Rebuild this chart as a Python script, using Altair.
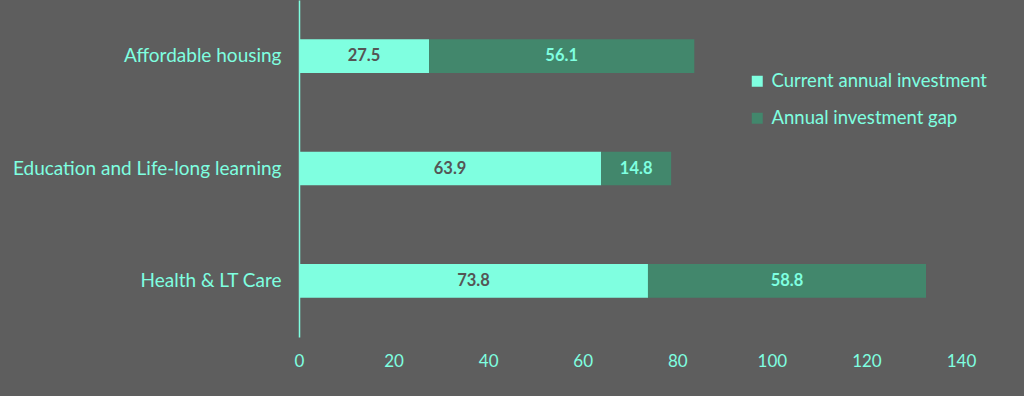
import altair as alt
import pandas as pd

categories = ["Affordable housing", "Education and Life-long learning", "Health & LT Care"]
current = [27.5, 63.9, 73.8]
gap = [56.1, 14.8, 58.8]
series = ["Current annual investment", "Annual investment gap"]

rows = []
for c, a, g in zip(categories, current, gap):
    rows.append({"cat": c, "series": series[0], "value": a, "start": 0, "end": a})
    rows.append({"cat": c, "series": series[1], "value": g, "start": a, "end": a + g})
df = pd.DataFrame(rows)
df["mid"] = (df["start"] + df["end"]) / 2

FONT = "Lato"
AQUA = "#7fffe0"
DARK = "#42876c"
BG = "#5e5e5e"

y = alt.Y("cat:N", sort=categories, title=None,
          scale=alt.Scale(paddingInner=0.7, paddingOuter=0.35),
          axis=alt.Axis(domainColor=AQUA, domainWidth=1.5, ticks=False,
                        labelColor=AQUA, labelFont=FONT, labelFontSize=19,
                        labelPadding=18, labelLimit=400, minExtent=299, maxExtent=299))
x = alt.X("start:Q", title=None,
          scale=alt.Scale(domain=[0, 140], nice=False),
          axis=alt.Axis(values=[0, 20, 40, 60, 80, 100, 120, 140], domain=False, ticks=False,
                        grid=False, labelColor=AQUA, labelFont=FONT, labelFontSize=17,
                        labelFlush=False, labelPadding=16, minExtent=59, maxExtent=59))

bars = alt.Chart(df).mark_bar().encode(
    y=y,
    x=x,
    x2="end:Q",
    color=alt.Color("series:N", scale=alt.Scale(domain=series, range=[AQUA, DARK]),
                    legend=alt.Legend(title=None, orient="none", legendX=449, legendY=72,
                                      symbolType="square", symbolSize=121,
                                      labelColor=AQUA, labelFont=FONT, labelFontSize=18.5,
                                      labelLimit=400, labelOffset=5,
                                      rowPadding=18, symbolStrokeWidth=0)),
)

labels = alt.Chart(df).mark_text(font=FONT, fontSize=16.5, fontWeight="bold").encode(
    y=alt.Y("cat:N", sort=categories),
    x=alt.X("mid:Q"),
    text=alt.Text("value:Q", format=".1f"),
    color=alt.Color("series:N", scale=alt.Scale(domain=series, range=["#555555", AQUA]), legend=None),
)

chart = alt.layer(bars, labels).resolve_scale(color="independent").properties(
    width=1024, height=396,
    background=BG,
    padding={"left": 0, "top": 0, "right": 48, "bottom": 0},
    autosize=alt.AutoSizeParams(type="fit", contains="padding"),
).configure_view(stroke=None)

chart.save("out.html", embed_options={"renderer": "svg", "actions": False})
